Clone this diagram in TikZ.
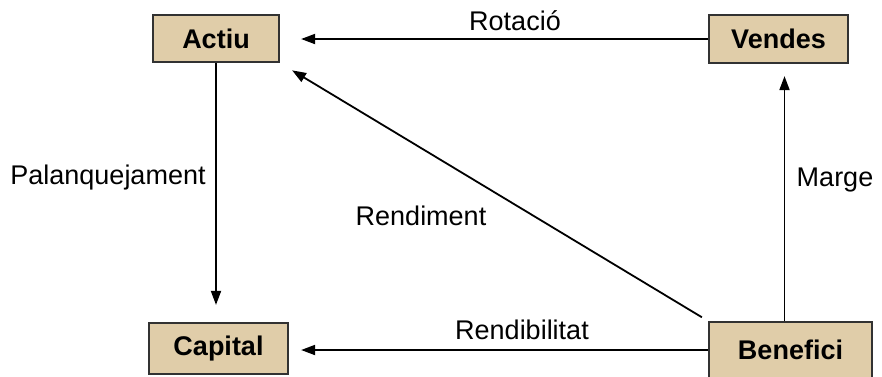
\documentclass[tikz,border=0pt]{standalone}
\usepackage{fontspec}
\setmainfont{Liberation Sans}
\usetikzlibrary{arrows.meta}
\definecolor{boxfill}{RGB}{224,205,169}
\definecolor{boxline}{RGB}{50,50,50}
\tikzset{
  entity/.style={draw=boxline, fill=boxfill, line width=2.2pt, inner sep=0pt,
    font=\fontsize{27}{31}\selectfont\bfseries},
  conn/.style={line width=1.8pt, -{Triangle[length=14pt,width=10pt]}},
  lbl/.style={font=\fontsize{27}{31}\selectfont, inner sep=0pt}
}
\begin{document}
\begin{tikzpicture}[x=1pt,y=-1pt]
\useasboundingbox (0,0) rectangle (882,376);
\node[entity, minimum width=126pt, minimum height=47pt] (actiu) at (216,38.5) {Actiu};
\node[entity, minimum width=139pt, minimum height=48pt] (vendes) at (778.5,39) {Vendes};
\node[entity, minimum width=139pt, minimum height=51pt] (capital) at (218.5,348.5) {Capital};
\node[entity, minimum width=163pt, minimum height=56pt] (benefici) at (790.5,350) {Benefici};

\draw[conn, shorten >=21pt] (vendes.west) -- (vendes.west -| actiu.east);
\draw[conn, shorten >=17pt] (actiu.south) -- (capital.north -| actiu.south);
\draw[conn, shorten >=12pt] (benefici.west) -- (benefici.west -| capital.east);
\draw[conn, shorten >=12pt] ([xshift=-6pt]benefici.north) -- ([xshift=-6pt]benefici.north |- vendes.south);
\draw[conn, shorten <=7pt, shorten >=14pt] (benefici.north west) -- (actiu.south east);

\node[lbl] (lrot) at (515,21) {Rotació};
\node[lbl] (lpal) at (108,178) {Palanquejament};
\node[lbl] (lrend) at (421,216) {Rendiment};
\node[lbl] (lmar) at (835,180) {Marge};
\node[lbl] (lrendib) at (522,330) {Rendibilitat};
\end{tikzpicture}
\end{document}
